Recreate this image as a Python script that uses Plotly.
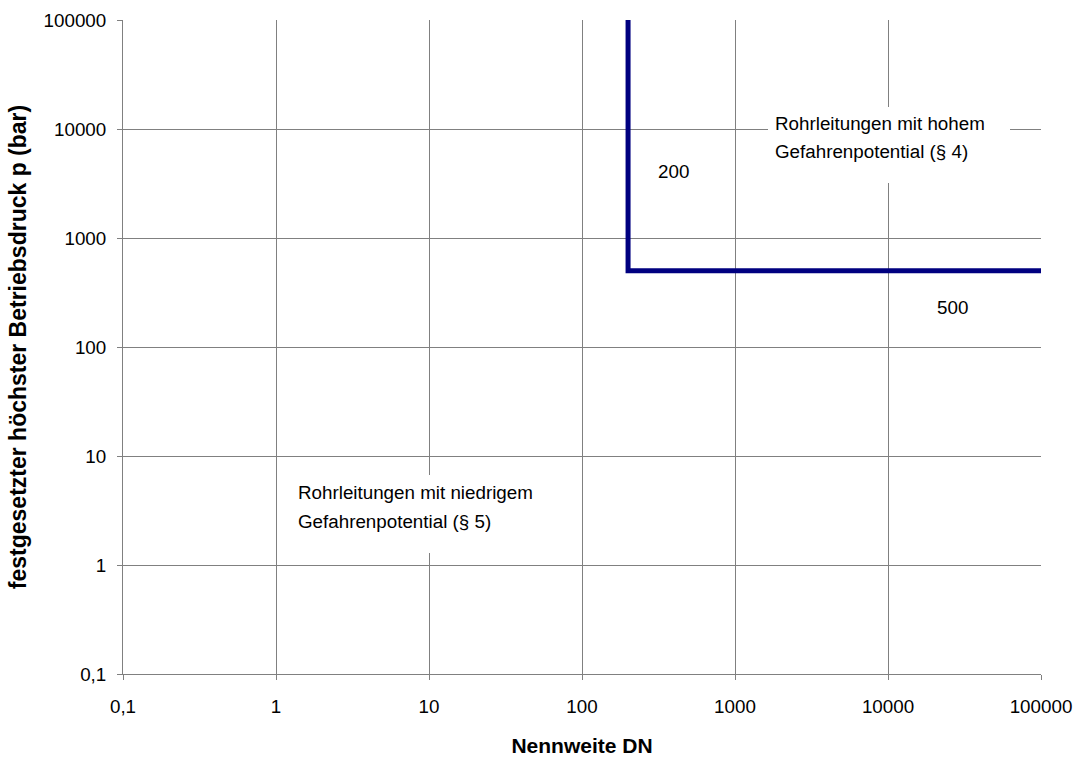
import plotly.graph_objects as go

# Boundary line between the two hazard classes
boundary_dn = [200, 200, 100000]
boundary_p = [100000, 500, 500]

tick_vals = [0.1, 1, 10, 100, 1000, 10000, 100000]
tick_text = ["0,1", "1", "10", "100", "1000", "10000", "100000"]

label_dn = "200"
label_p = "500"
text_high = ["Rohrleitungen mit hohem", "Gefahrenpotential (§ 4)"]
text_low = ["Rohrleitungen mit niedrigem", "Gefahrenpotential (§ 5)"]

FONT = "Arial, Liberation Sans, sans-serif"
W, H = 1081, 761
L, T, R, B = 123, 20, 40, 87
PW, PH = W - L - R, H - T - B


def px(x):
    return (x - L) / PW


def py(y):
    return (H - B - y) / PH


fig = go.Figure()
fig.add_trace(go.Scatter(
    x=boundary_dn, y=boundary_p, mode="lines",
    line=dict(color="#000080", width=5),
    showlegend=False, hoverinfo="skip",
))

axis_common = dict(
    type="log",
    tickvals=tick_vals, ticktext=tick_text,
    showgrid=True, gridcolor="#808080", gridwidth=1,
    showline=True, linecolor="#808080", linewidth=1,
    ticks="outside", ticklen=5, tickcolor="#808080",
    tickfont=dict(family=FONT, size=18.8, color="#000000"),
    zeroline=False, mirror=False,
)

fig.update_xaxes(
    **axis_common, range=[-1, 5], ticklabelstandoff=10,
    title=dict(text="<b>Nennweite DN</b>", font=dict(family=FONT, size=21, color="#000000"),
               standoff=22),
)
fig.update_yaxes(
    **axis_common, range=[-1, 5], ticklabelstandoff=7,
    title=dict(text="<b>festgesetzter höchster Betriebsdruck p (bar)</b>",
               font=dict(family=FONT, size=23, color="#000000"), standoff=10),
)

# white boxes behind the region labels
shapes = [
    dict(type="rect", xref="paper", yref="paper",
         x0=px(768), x1=px(1010), y0=py(183), y1=py(107),
         fillcolor="white", line=dict(width=0), layer="above"),
    dict(type="rect", xref="paper", yref="paper",
         x0=px(291), x1=px(559), y0=py(553), y1=py(475),
         fillcolor="white", line=dict(width=0), layer="above"),
]

ann_font = dict(family=FONT, size=18.8, color="#000000")
annotations = []
for txt, y in zip(text_high, [123.5, 151.5]):
    annotations.append(dict(text=txt, xref="paper", yref="paper", x=px(775), y=py(y),
                            xanchor="left", yanchor="middle", showarrow=False,
                            font=ann_font, borderpad=0, borderwidth=0))
for txt, y in zip(text_low, [492.5, 521.5]):
    annotations.append(dict(text=txt, xref="paper", yref="paper", x=px(298), y=py(y),
                            xanchor="left", yanchor="middle", showarrow=False,
                            font=ann_font, borderpad=0, borderwidth=0))
annotations.append(dict(text=label_dn, xref="paper", yref="paper", x=px(673.5), y=py(171.5),
                        xanchor="center", yanchor="middle", showarrow=False,
                        font=ann_font, borderpad=0, borderwidth=0))
annotations.append(dict(text=label_p, xref="paper", yref="paper", x=px(952), y=py(307),
                        xanchor="center", yanchor="middle", showarrow=False,
                        font=ann_font, borderpad=0, borderwidth=0))

fig.update_layout(
    width=W, height=H,
    margin=dict(l=L, r=R, t=T, b=B, autoexpand=False),
    paper_bgcolor="white", plot_bgcolor="white",
    font=dict(family=FONT, color="#000000"),
    shapes=shapes, annotations=annotations,
    showlegend=False,
)

fig.write_html(
    "out.html",
    config={"displayModeBar": False},
    post_script="document.body.style.margin='0';document.body.style.padding='0';",
)
